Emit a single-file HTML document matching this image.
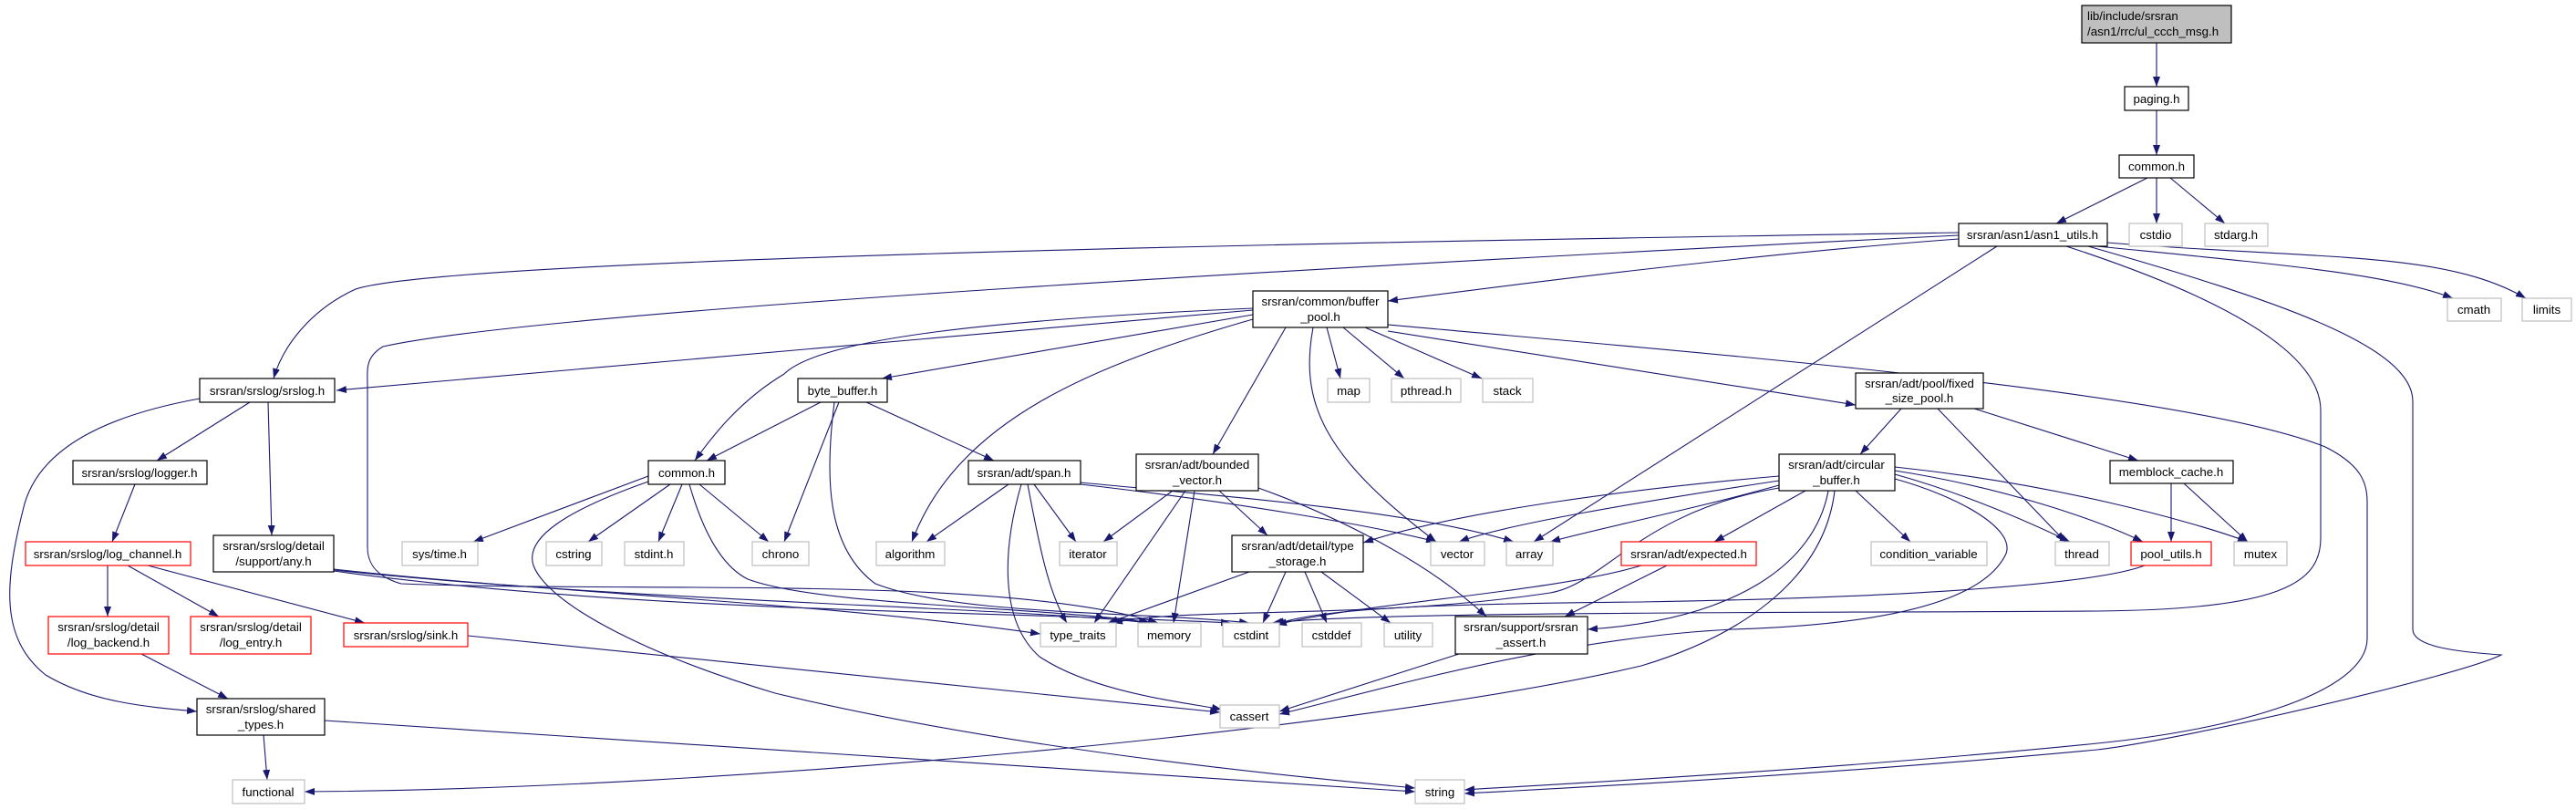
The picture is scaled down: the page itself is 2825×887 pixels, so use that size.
<!DOCTYPE html>
<html><head><meta charset="utf-8"><style>
html,body{margin:0;padding:0;background:#fff;}
svg{display:block;}
text{font-family:"Liberation Sans",Arial,sans-serif;font-size:13.3px;fill:#000;}
.e{fill:none;stroke:#191970;stroke-width:1.1;}
.b{fill:#fff;stroke:#000;stroke-width:1.2;}
.g{fill:#fff;stroke:#bfbfbf;stroke-width:1.2;}
.r{fill:#fff;stroke:#ff0000;stroke-width:1.2;}
.t{fill:#bfbfbf;stroke:#000;stroke-width:1.2;}
</style></head><body>
<svg width="2825" height="887" viewBox="0 0 2825 887" xmlns="http://www.w3.org/2000/svg">
<defs><marker id="a" markerWidth="11" markerHeight="8" refX="11" refY="4" orient="auto" markerUnits="userSpaceOnUse"><path d="M0,0 L11,4 L0,8 z" fill="#191970"/></marker></defs>
<g marker-end="url(#a)">
<path class="e" d="M2365,47 L2365,95"/>
<path class="e" d="M2365,121 L2365,170"/>
<path class="e" d="M2355,195 L2255,245"/>
<path class="e" d="M2365,195 L2365,245"/>
<path class="e" d="M2380,195 L2440,245"/>
<path class="e" d="M2148,255 C1700,262 500,280 390,317 C340,340 310,380 300,415"/>
<path class="e" d="M2148,262 C1900,280 1600,320 1522,330"/>
<path class="e" d="M2148,258 C1500,290 600,340 420,380 C400,392 403,405 403,425 L403,600 C403,620 415,633 440,640 C700,650 1100,630 1270,683"/>
<path class="e" d="M2190,270 L1682,594"/>
<path class="e" d="M2300,270 C2500,290 2620,300 2690,327"/>
<path class="e" d="M2311,266 C2550,285 2680,275 2770,327"/>
<path class="e" d="M2266,270 C2450,330 2545,390 2545,450 L2545,590 C2545,640 2500,668 2300,670 C2000,672 1500,670 1395,683"/>
<path class="e" d="M2290,270 C2500,330 2646,380 2646,440 L2646,690 C2646,710 2700,715 2743,718 C2700,740 2400,810 2300,822 C2000,850 1700,865 1606,870"/>
<path class="e" d="M1522,356 C1900,390 2400,430 2550,490 C2590,510 2596,530 2596,550 L2596,700 C2596,760 2450,800 2300,815 C2000,845 1700,860 1606,866"/>
<path class="e" d="M1374,340 L369,428"/>
<path class="e" d="M1374,338 C1100,350 900,370 860,410 C810,440 780,480 762,505"/>
<path class="e" d="M1374,345 L967,415"/>
<path class="e" d="M1374,350 C1200,400 1050,460 1000,594"/>
<path class="e" d="M1410,359 L1330,498"/>
<path class="e" d="M1440,359 C1425,440 1450,500 1575,594"/>
<path class="e" d="M1455,359 L1470,415"/>
<path class="e" d="M1473,359 L1540,415"/>
<path class="e" d="M1497,359 L1625,415"/>
<path class="e" d="M1522,363 L2035,444"/>
<path class="e" d="M900,441 L775,505"/>
<path class="e" d="M920,441 L860,594"/>
<path class="e" d="M950,441 L1090,505"/>
<path class="e" d="M915,441 C905,520 905,600 960,640 C1050,675 1250,670 1370,683"/>
<path class="e" d="M274,441 L172,505"/>
<path class="e" d="M294,441 L298,587"/>
<path class="e" d="M219,437 C120,455 40,490 25,560 C5,640 0,700 50,740 C100,770 160,775 216,780"/>
<path class="e" d="M148,531 L123,594"/>
<path class="e" d="M118,620 L118,676"/>
<path class="e" d="M140,620 L240,676"/>
<path class="e" d="M162,620 L400,683"/>
<path class="e" d="M155,717 L250,766"/>
<path class="e" d="M289,806 L293,855"/>
<path class="e" d="M356,790 L1552,868"/>
<path class="e" d="M366,624 C600,650 900,660 1141,695"/>
<path class="e" d="M366,625 C700,660 1100,665 1260,683"/>
<path class="e" d="M366,626 C700,672 1100,670 1350,683"/>
<path class="e" d="M513,697 L1338,781"/>
<path class="e" d="M711,522 L519,594"/>
<path class="e" d="M735,531 L645,594"/>
<path class="e" d="M748,531 L722,594"/>
<path class="e" d="M767,531 L843,594"/>
<path class="e" d="M711,528 C620,560 575,590 585,620 C600,660 700,715 850,760 C1100,820 1400,850 1552,864"/>
<path class="e" d="M756,531 C770,580 790,620 820,635 C900,665 1150,665 1262,683"/>
<path class="e" d="M1106,531 L1016,594"/>
<path class="e" d="M1134,531 L1180,594"/>
<path class="e" d="M1127,531 C1140,600 1150,650 1170,683"/>
<path class="e" d="M1120,531 C1100,600 1095,680 1140,720 C1200,760 1300,770 1340,778"/>
<path class="e" d="M1185,531 C1350,550 1500,575 1575,594"/>
<path class="e" d="M1185,529 C1350,545 1550,560 1660,594"/>
<path class="e" d="M1286,538 L1210,594"/>
<path class="e" d="M1300,538 L1200,683"/>
<path class="e" d="M1310,538 L1287,683"/>
<path class="e" d="M1337,538 L1390,587"/>
<path class="e" d="M1380,535 C1450,560 1560,610 1630,676"/>
<path class="e" d="M1370,627 L1215,683"/>
<path class="e" d="M1410,627 L1385,683"/>
<path class="e" d="M1431,627 L1455,683"/>
<path class="e" d="M1449,627 L1525,683"/>
<path class="e" d="M1951,522 C1800,535 1600,560 1495,595"/>
<path class="e" d="M1951,527 C1800,550 1650,575 1600,594"/>
<path class="e" d="M1951,532 C1850,560 1750,580 1700,594"/>
<path class="e" d="M1980,538 L1880,594"/>
<path class="e" d="M2035,538 L2095,594"/>
<path class="e" d="M2005,538 C1990,620 1900,680 1741,690"/>
<path class="e" d="M2012,538 C2000,640 1900,700 1800,730 C1500,800 800,865 334,868"/>
<path class="e" d="M1951,535 C1800,560 1760,640 1700,650 C1500,680 1300,665 1220,683"/>
<path class="e" d="M2078,520 C2150,540 2220,570 2270,594"/>
<path class="e" d="M2078,516 C2200,535 2300,570 2350,594"/>
<path class="e" d="M2078,512 C2250,530 2400,570 2465,594"/>
<path class="e" d="M2078,525 C2150,545 2210,580 2200,607 C2180,650 2100,684 1900,690 C1700,700 1500,760 1403,783"/>
<path class="e" d="M1828,620 L1716,676"/>
<path class="e" d="M1800,620 C1700,650 1500,660 1400,685"/>
<path class="e" d="M1600,717 L1403,780"/>
<path class="e" d="M2085,448 L2040,498"/>
<path class="e" d="M2125,448 L2265,594"/>
<path class="e" d="M2165,448 L2345,505"/>
<path class="e" d="M2381,530 L2381,594"/>
<path class="e" d="M2395,530 L2465,594"/>
<path class="e" d="M2352,620 C2300,640 2100,655 1800,660 C1600,662 1450,665 1398,685"/>
</g>
<g>
<rect class="t" x="2283" y="6" width="164" height="41"/>
<text x="2289" y="22">lib/include/srsran</text><text x="2289" y="39">/asn1/rrc/ul_ccch_msg.h</text>
</g>
<g text-anchor="middle">
<rect class="b" x="2330" y="95" width="70" height="26"/><text x="2365" y="113">paging.h</text>
<rect class="b" x="2324" y="170" width="82" height="25"/><text x="2365" y="187">common.h</text>
<rect class="b" x="2148" y="245" width="163" height="25"/><text x="2229" y="262">srsran/asn1/asn1_utils.h</text>
<rect class="g" x="2335" y="245" width="58" height="25"/><text x="2364" y="262">cstdio</text>
<rect class="g" x="2418" y="245" width="69" height="25"/><text x="2452" y="262">stdarg.h</text>
<rect class="g" x="2684" y="327" width="59" height="25"/><text x="2713" y="344">cmath</text>
<rect class="g" x="2766" y="327" width="54" height="25"/><text x="2793" y="344">limits</text>
<rect class="b" x="1374" y="319" width="148" height="40"/><text x="1448" y="335">srsran/common/buffer</text><text x="1448" y="352">_pool.h</text>
<rect class="b" x="219" y="415" width="148" height="26"/><text x="293" y="433">srsran/srslog/srslog.h</text>
<rect class="b" x="875" y="415" width="98" height="26"/><text x="924" y="433">byte_buffer.h</text>
<rect class="g" x="1456" y="415" width="46" height="26"/><text x="1479" y="433">map</text>
<rect class="g" x="1526" y="415" width="76" height="26"/><text x="1564" y="433">pthread.h</text>
<rect class="g" x="1626" y="415" width="55" height="26"/><text x="1653" y="433">stack</text>
<rect class="b" x="2035" y="409" width="140" height="39"/><text x="2105" y="425">srsran/adt/pool/fixed</text><text x="2105" y="441">_size_pool.h</text>
<rect class="b" x="80" y="505" width="147" height="26"/><text x="153" y="523">srsran/srslog/logger.h</text>
<rect class="b" x="711" y="505" width="84" height="26"/><text x="753" y="523">common.h</text>
<rect class="b" x="1062" y="505" width="123" height="26"/><text x="1123" y="523">srsran/adt/span.h</text>
<rect class="b" x="1246" y="498" width="134" height="40"/><text x="1313" y="514">srsran/adt/bounded</text><text x="1313" y="531">_vector.h</text>
<rect class="b" x="1951" y="498" width="127" height="40"/><text x="2014" y="514">srsran/adt/circular</text><text x="2014" y="531">_buffer.h</text>
<rect class="b" x="2314" y="505" width="135" height="25"/><text x="2381" y="522">memblock_cache.h</text>
<rect class="r" x="28" y="594" width="181" height="26"/><text x="118" y="612">srsran/srslog/log_channel.h</text>
<rect class="b" x="234" y="587" width="132" height="40"/><text x="300" y="603">srsran/srslog/detail</text><text x="300" y="620">/support/any.h</text>
<rect class="g" x="441" y="594" width="83" height="26"/><text x="482" y="612">sys/time.h</text>
<rect class="g" x="599" y="594" width="61" height="26"/><text x="629" y="612">cstring</text>
<rect class="g" x="685" y="594" width="65" height="26"/><text x="717" y="612">stdint.h</text>
<rect class="g" x="825" y="594" width="62" height="26"/><text x="856" y="612">chrono</text>
<rect class="g" x="961" y="594" width="75" height="26"/><text x="998" y="612">algorithm</text>
<rect class="g" x="1162" y="594" width="63" height="26"/><text x="1193" y="612">iterator</text>
<rect class="b" x="1351" y="587" width="144" height="40"/><text x="1423" y="603">srsran/adt/detail/type</text><text x="1423" y="620">_storage.h</text>
<rect class="g" x="1569" y="594" width="59" height="26"/><text x="1598" y="612">vector</text>
<rect class="g" x="1652" y="594" width="51" height="26"/><text x="1677" y="612">array</text>
<rect class="r" x="1778" y="594" width="148" height="26"/><text x="1852" y="612">srsran/adt/expected.h</text>
<rect class="g" x="2052" y="594" width="127" height="26"/><text x="2115" y="612">condition_variable</text>
<rect class="g" x="2254" y="594" width="59" height="26"/><text x="2283" y="612">thread</text>
<rect class="r" x="2337" y="594" width="88" height="26"/><text x="2381" y="612">pool_utils.h</text>
<rect class="g" x="2450" y="594" width="58" height="26"/><text x="2479" y="612">mutex</text>
<rect class="r" x="53" y="676" width="132" height="41"/><text x="119" y="692">srsran/srslog/detail</text><text x="119" y="709">/log_backend.h</text>
<rect class="r" x="209" y="676" width="132" height="41"/><text x="275" y="692">srsran/srslog/detail</text><text x="275" y="709">/log_entry.h</text>
<rect class="r" x="377" y="683" width="136" height="26"/><text x="445" y="701">srsran/srslog/sink.h</text>
<rect class="g" x="1141" y="683" width="83" height="26"/><text x="1182" y="701">type_traits</text>
<rect class="g" x="1248" y="683" width="69" height="26"/><text x="1282" y="701">memory</text>
<rect class="g" x="1341" y="683" width="62" height="26"/><text x="1372" y="701">cstdint</text>
<rect class="g" x="1428" y="683" width="65" height="26"/><text x="1460" y="701">cstddef</text>
<rect class="g" x="1518" y="683" width="53" height="26"/><text x="1544" y="701">utility</text>
<rect class="b" x="1596" y="676" width="145" height="41"/><text x="1668" y="692">srsran/support/srsran</text><text x="1668" y="709">_assert.h</text>
<rect class="b" x="216" y="766" width="140" height="40"/><text x="286" y="782">srsran/srslog/shared</text><text x="286" y="799">_types.h</text>
<rect class="g" x="1338" y="773" width="65" height="25"/><text x="1370" y="790">cassert</text>
<rect class="g" x="255" y="855" width="79" height="26"/><text x="294" y="873">functional</text>
<rect class="g" x="1552" y="855" width="54" height="26"/><text x="1579" y="873">string</text>
</g>
</svg>
</body></html>
